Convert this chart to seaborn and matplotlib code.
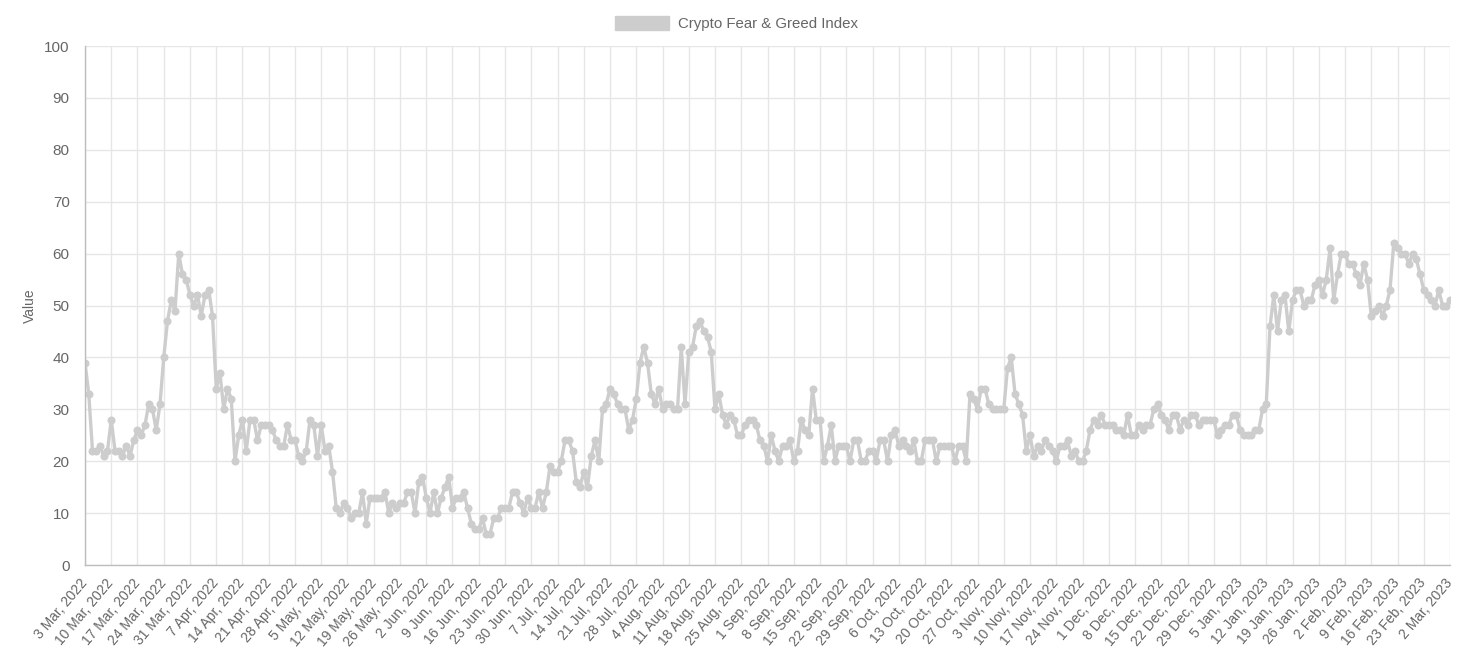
import pandas as pd
import seaborn as sns
import matplotlib.pyplot as plt
from matplotlib.patches import Patch

# Daily index values (3 Mar 2022 - 2 Mar 2023)
values_spring = [
    39, 33, 22, 22, 23, 21, 22,
    28, 22, 22, 21, 23, 21, 24,
    26, 25, 27, 31, 30, 26, 31,
    40, 47, 51, 49, 60, 56, 55,
    52, 50, 52, 48, 52, 53, 48,
    34, 37, 30, 34, 32, 20, 25,
    28, 22, 28, 28, 24, 27, 27,
    27, 26, 24, 23, 23, 27, 24,
    24, 21, 20, 22, 28, 27, 21,
    27, 22, 23, 18, 11, 10, 12,
    11, 9, 10, 10, 14, 8, 13,
    13, 13, 13, 14, 10, 12, 11,
    12, 12, 14, 14, 10, 16, 17,
]
values_summer = [
    13, 10, 14, 10, 13, 15, 17,
    11, 13, 13, 14, 11, 8, 7,
    7, 9, 6, 6, 9, 9, 11,
    11, 11, 14, 14, 12, 10, 13,
    11, 11, 14, 11, 14, 19, 18,
    18, 20, 24, 24, 22, 16, 15,
    18, 15, 21, 24, 20, 30, 31,
    34, 33, 31, 30, 30, 26, 28,
    32, 39, 42, 39, 33, 31, 34,
    30, 31, 31, 30, 30, 42, 31,
    41, 42, 46, 47, 45, 44, 41,
    30, 33, 29, 27, 29, 28, 25,
    25, 27, 28, 28, 27, 24, 23,
]
values_autumn = [
    20, 25, 22, 20, 23, 23, 24,
    20, 22, 28, 26, 25, 34, 28,
    28, 20, 23, 27, 20, 23, 23,
    23, 20, 24, 24, 20, 20, 22,
    22, 20, 24, 24, 20, 25, 26,
    23, 24, 23, 22, 24, 20, 20,
    24, 24, 24, 20, 23, 23, 23,
    23, 20, 23, 23, 20, 33, 32,
    30, 34, 34, 31, 30, 30, 30,
    30, 38, 40, 33, 31, 29, 22,
    25, 21, 23, 22, 24, 23, 22,
    20, 23, 23, 24, 21, 22, 20,
    20, 22, 26, 28, 27, 29, 27,
]
values_winter = [
    27, 27, 26, 26, 25, 29, 25,
    25, 27, 26, 27, 27, 30, 31,
    29, 28, 26, 29, 29, 26, 28,
    27, 29, 29, 27, 28, 28, 28,
    28, 25, 26, 27, 27, 29, 29,
    26, 25, 25, 25, 26, 26, 30,
    31, 46, 52, 45, 51, 52, 45,
    51, 53, 53, 50, 51, 51, 54,
    55, 52, 55, 61, 51, 56, 60,
    60, 58, 58, 56, 54, 58, 55,
    48, 49, 50, 48, 50, 53, 62,
    61, 60, 60, 58, 60, 59, 56,
    53, 52, 51, 50, 53, 50, 50,
    51,
]

dates = pd.date_range('2022-03-03', '2023-03-02', freq='D')
week_ticks = pd.date_range('2022-03-03', '2023-03-02', freq='7D')
tick_labels = [f"{d.day} {d.strftime('%b')}, {d.year}" for d in week_ticks]
y_ticks = list(range(0, 101, 10))

fear_greed = pd.DataFrame({
    'date': dates,
    'value': values_spring + values_summer + values_autumn + values_winter,
})

sns.set_style('white')
plt.rcParams['font.family'] = ['Liberation Sans', 'DejaVu Sans']

line_color = '#cdcdcd'
text_color = '#666666'
grid_color = '#e6e6e6'

fig = plt.figure(figsize=(14.73, 6.61), dpi=100)
ax = fig.add_axes([0.0577, 0.1452, 0.9267, 0.7852])

sns.lineplot(data=fear_greed, x='date', y='value', color=line_color,
             linewidth=2.4, marker='o', markersize=5.8, markeredgewidth=0,
             ax=ax)

ax.set_xlim(dates[0], dates[-1])
ax.set_ylim(0, 100)
ax.set_xticks(week_ticks)
ax.set_xticklabels(tick_labels, rotation=50, ha='right', va='center',
                   rotation_mode='anchor')
ax.set_yticks(y_ticks)

ax.grid(True, color=grid_color, linewidth=1)
ax.set_axisbelow(True)
for side in ['top', 'right']:
    ax.spines[side].set_visible(False)
for side in ['left', 'bottom']:
    ax.spines[side].set_color('#bdbdbd')
    ax.spines[side].set_linewidth(1)

ax.tick_params(axis='y', length=9, width=1, color=grid_color,
               labelcolor=text_color, labelsize=11, pad=2)
ax.tick_params(axis='x', length=7, width=1, color=grid_color,
               labelcolor=text_color, labelsize=10, pad=4)

ax.set_xlabel('')
ax.set_ylabel('Value', color=text_color, fontsize=10, labelpad=5)

fig.legend(handles=[Patch(facecolor=line_color, edgecolor=line_color,
                          label='Crypto Fear & Greed Index')],
           loc='center', bbox_to_anchor=(0.5, 0.964), frameon=False,
           handlelength=3.6, handleheight=1.05, handletextpad=0.55,
           fontsize=10.8, labelcolor=text_color)

plt.savefig('out.png', dpi=100)
